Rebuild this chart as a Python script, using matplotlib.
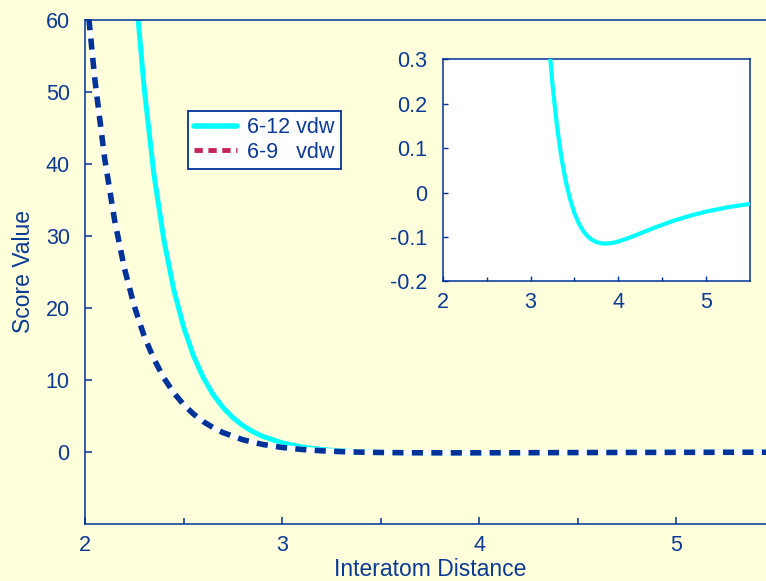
import matplotlib
matplotlib.use("Agg")
import matplotlib.pyplot as plt
from matplotlib.lines import Line2D

plt.rcParams['font.family'] = ['Liberation Sans', 'DejaVu Sans']
plt.rcParams['lines.scale_dashes'] = False

# 6-12 vdw curve
x_612 = [2.26, 2.30, 2.35, 2.40, 2.45, 2.50, 2.55, 2.60, 2.65, 2.70, 2.75,
         2.80, 2.85, 2.90, 3.00, 3.10, 3.15, 3.20, 3.25, 3.30, 3.35, 3.40,
         3.45, 3.50, 3.55, 3.60, 3.65, 3.70, 3.75, 3.80, 3.85, 3.90, 3.95,
         4.00, 4.10, 4.20, 4.40, 4.60, 4.80, 5.00, 5.25, 5.50]
y_612 = [63.1, 50.6, 38.5, 29.5, 22.6, 17.4, 13.4, 10.35, 8.0, 6.19, 4.79,
         3.70, 2.85, 2.19, 1.27, 0.704, 0.511, 0.360, 0.243, 0.151, 0.0806,
         0.0262, -0.0152, -0.0465, -0.0698, -0.0867, -0.0986, -0.1067,
         -0.1116, -0.1142, -0.1150, -0.1144, -0.1127, -0.1102, -0.1036,
         -0.0960, -0.0801, -0.0655, -0.0531, -0.0429, -0.0330, -0.0255]

# 6-9 vdw curve
x_69 = [2.01, 2.05, 2.10, 2.15, 2.20, 2.25, 2.30, 2.35, 2.40, 2.45, 2.50,
        2.55, 2.60, 2.65, 2.70, 2.80, 2.90, 3.00, 3.10, 3.20, 3.30, 3.40,
        3.50, 3.60, 3.70, 3.80, 3.85, 3.90, 4.00, 4.20, 4.40, 4.60, 4.80,
        5.00, 5.25, 5.50]
y_69 = [62.8, 51.7, 40.7, 32.2, 25.5, 20.26, 16.1, 12.9, 10.3, 8.24, 6.60,
        5.29, 4.23, 3.39, 2.70, 1.71, 1.06, 0.630, 0.351, 0.168, 0.051,
        -0.0233, -0.0689, -0.0953, -0.109, -0.1144, -0.1150, -0.1145,
        -0.1112, -0.0996, -0.0857, -0.0722, -0.0603, -0.0500, -0.0396,
        -0.0313]

label_612 = "6-12 vdw"
label_69 = "6-9   vdw"
main_xticks = [2, 3, 4, 5]
main_yticks = [0, 10, 20, 30, 40, 50, 60]
inset_xticks = [2, 3, 4, 5]
inset_yticks = [-0.2, -0.1, 0, 0.1, 0.2, 0.3]
inset_yticklabels = ["-0.2", "-0.1", "0", "0.1", "0.2", "0.3"]

NAVY = '#003399'
TXT = '#0B3A96'
BG = '#FFFFDC'
CYAN = '#00FFFF'
CRIMSON = '#C4245A'
TICK_FS = 15.5
LABEL_FS = 16.5

fig = plt.figure(figsize=(7.66, 5.81), dpi=100, facecolor=BG)
ax = fig.add_axes([0.111, 0.0981, 0.9001, 0.8675], facecolor=BG)

ax.plot(x_612, y_612, color=CYAN, lw=3.6, solid_capstyle='butt', zorder=2)
ax.plot(x_69, y_69, color='white', lw=4.0, zorder=3)
ax.plot(x_69, y_69, color=NAVY, lw=4.0, dashes=(8.0, 6.0), dash_capstyle='butt', zorder=4)

ax.set_xlim(2, 5.5)
ax.set_ylim(-10, 60)
ax.set_xticks(main_xticks)
ax.set_xticks([2.5, 3.5, 4.5], minor=True)
ax.set_yticks(main_yticks)
ax.tick_params(axis='both', which='both', direction='in', colors=NAVY,
               labelcolor=TXT, labelsize=TICK_FS, width=1.1)
ax.tick_params(axis='both', which='major', length=5)
ax.tick_params(axis='x', which='minor', length=4)
ax.tick_params(axis='x', pad=8)
ax.tick_params(axis='y', pad=11)
for s in ax.spines.values():
    s.set_color(NAVY)
    s.set_linewidth(1.1)
ax.set_xlabel("Interatom Distance", color=TXT, fontsize=LABEL_FS, labelpad=1)
ax.set_ylabel("Score Value", color=TXT, fontsize=LABEL_FS, labelpad=8)

handles = [Line2D([], [], color=CYAN, lw=4.0, solid_capstyle='round'),
           Line2D([], [], color=CRIMSON, lw=3.5, dashes=(6.0, 4.0))]
leg = ax.legend(handles, [label_612, label_69], loc='upper left',
                bbox_to_anchor=(0.149, 0.8194), borderaxespad=0,
                fontsize=15.5, frameon=True, fancybox=False, handlelength=2.0,
                handletextpad=0.45, borderpad=0.3, labelspacing=0.15)
leg.get_frame().set_edgecolor(NAVY)
leg.get_frame().set_linewidth(1.3)
leg.get_frame().set_facecolor('white')
leg.get_frame().set_alpha(1)
for t in leg.get_texts():
    t.set_color(TXT)

# Inset
axi = fig.add_axes([0.578, 0.5158, 0.4012, 0.3821], facecolor='white')
axi.plot(x_69, y_69, color='white', lw=3.0, zorder=2)
axi.plot(x_612, y_612, color=CYAN, lw=3.0, zorder=3)
axi.set_xlim(2, 5.5)
axi.set_ylim(-0.2, 0.3)
axi.set_xticks(inset_xticks)
axi.set_xticks([2.5, 3.5, 4.5], minor=True)
axi.set_yticks(inset_yticks)
axi.set_yticklabels(inset_yticklabels)
axi.tick_params(axis='both', which='both', direction='in', colors=NAVY,
                labelcolor=TXT, labelsize=TICK_FS, width=1.0)
axi.tick_params(axis='both', which='major', length=3.5)
axi.tick_params(axis='x', which='minor', length=3)
axi.tick_params(axis='x', pad=8)
axi.tick_params(axis='y', pad=11)
for s in axi.spines.values():
    s.set_color(NAVY)
    s.set_linewidth(1.1)

fig.savefig("out.png", dpi=100, facecolor=BG)
